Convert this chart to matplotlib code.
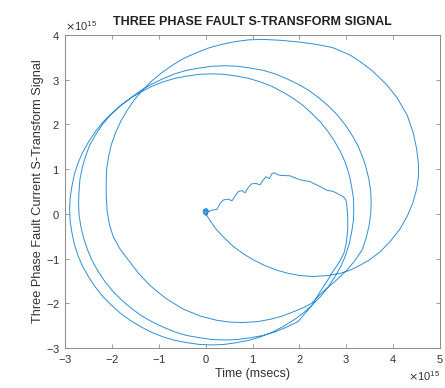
import numpy as np
import matplotlib.pyplot as plt
from matplotlib.ticker import ScalarFormatter

plt.rcParams['font.family'] = ['Liberation Sans', 'DejaVu Sans']
plt.rcParams['axes.unicode_minus'] = False

SCALE = 1e15

# small start-up loop at the origin
blob_x = [0.0, 0.04, 0.05, 0.02, -0.03, -0.05, -0.03, 0.01, 0.04, 0.03, -0.01, -0.03, 0.0]
blob_y = [0.0, 0.03, 0.08, 0.11, 0.10, 0.05, 0.0, -0.03, 0.0, 0.06, 0.07, 0.03, 0.0]

# first (widest) turn, leaving the origin along the lower arc
turn1_x = [0.0, 0.12, 0.235, 0.4, 0.59, 0.8, 1.02, 1.27, 1.52, 1.76,
           2.01, 2.3, 2.6, 2.87, 3.05, 3.22, 3.48, 3.72, 3.95, 4.15,
           4.3, 4.42, 4.5, 4.54, 4.54, 4.5, 4.43, 4.3, 4.08, 3.85,
           3.55, 3.3, 3.08, 2.7, 2.35, 2.0, 1.6, 1.21, 0.92, 0.63,
           0.35, 0.07, -0.20, -0.46, -0.70, -0.93, -1.15, -1.34, -1.52, -1.67,
           -1.81, -1.92, -2.01, -2.07, -2.11, -2.12, -2.12, -2.1, -2.05, -1.97,
           -1.83, -1.65, -1.43, -1.19, -0.85, -0.48, -0.1, 0.24, 0.52, 0.8,
           1.1, 1.37, 1.62, 1.87, 2.08, 2.26]
turn1_y = [0.0, -0.19, -0.36, -0.54, -0.73, -0.89, -1.03, -1.16, -1.26, -1.33,
           -1.38, -1.40, -1.38, -1.33, -1.27, -1.19, -1.04, -0.85, -0.6, -0.33,
           -0.05, 0.25, 0.55, 0.85, 1.1, 1.45, 1.8, 2.2, 2.6, 2.9,
           3.2, 3.4, 3.55, 3.72, 3.79, 3.84, 3.88, 3.9, 3.89, 3.85,
           3.79, 3.71, 3.60, 3.48, 3.33, 3.16, 2.97, 2.77, 2.55, 2.32,
           2.07, 1.82, 1.55, 1.28, 1.01, 0.74, 0.4, 0.05, -0.25, -0.51,
           -0.78, -1.03, -1.33, -1.6, -1.89, -2.13, -2.29, -2.38, -2.42, -2.43,
           -2.41, -2.36, -2.29, -2.19, -2.1, -2.0]

# second turn
turn2_x = [2.5, 2.78, 3.03, 3.2, 3.34, 3.42, 3.48, 3.52, 3.53, 3.52,
           3.48, 3.42, 3.34, 3.24, 3.11, 2.97, 2.80, 2.62, 2.42, 2.20,
           1.97, 1.73, 1.48, 1.22, 0.95, 0.68, 0.41, 0.14, -0.13, -0.40,
           -0.66, -0.91, -1.15, -1.38, -1.60, -1.82, -2.02, -2.20, -2.34, -2.47,
           -2.56, -2.63, -2.68, -2.70, -2.71, -2.70, -2.66, -2.60, -2.52, -2.42,
           -2.29, -2.15, -1.98, -1.80, -1.60, -1.38, -1.15, -0.91, -0.66, -0.40,
           -0.13, 0.14, 0.41, 0.68, 0.95, 1.22, 1.48, 1.73, 1.97]
turn2_y = [-1.74, -1.49, -1.24, -1.02, -0.80, -0.55, -0.29, -0.02, 0.25, 0.51,
           0.78, 1.04, 1.29, 1.54, 1.78, 2.00, 2.22, 2.41, 2.59, 2.76,
           2.90, 3.02, 3.13, 3.21, 3.26, 3.30, 3.31, 3.30, 3.26, 3.21,
           3.13, 3.02, 2.90, 2.76, 2.59, 2.41, 2.22, 2.00, 1.78, 1.54,
           1.29, 1.04, 0.78, 0.51, 0.25, -0.02, -0.29, -0.55, -0.80, -1.05,
           -1.29, -1.51, -1.73, -1.92, -2.10, -2.27, -2.41, -2.53, -2.64, -2.72,
           -2.77, -2.81, -2.82, -2.81, -2.77, -2.72, -2.64, -2.53, -2.41]

# third turn
turn3_x = [2.27, 2.45, 2.61, 2.75, 2.88, 2.98, 3.06, 3.11, 3.15, 3.16,
           3.15, 3.11, 3.06, 2.98, 2.88, 2.75, 2.61, 2.45, 2.27, 2.08,
           1.87, 1.65, 1.41, 1.17, 0.91, 0.66, 0.39, 0.13, -0.13, -0.40,
           -0.65, -0.91, -1.15, -1.39, -1.61, -1.82, -2.01, -2.19, -2.35, -2.49,
           -2.62, -2.72, -2.80, -2.85, -2.89, -2.90, -2.89, -2.85, -2.80, -2.72,
           -2.62, -2.49, -2.35, -2.19, -2.01, -1.82, -1.61, -1.39, -1.15, -0.91,
           -0.65, -0.40, -0.13, 0.13, 0.39, 0.66, 0.91, 1.17, 1.41, 1.65,
           1.87, 2.08]
turn3_y = [-2.04, -1.85, -1.64, -1.42, -1.18, -0.94, -0.68, -0.43, -0.16, 0.10,
           0.36, 0.63, 0.88, 1.14, 1.38, 1.62, 1.84, 2.05, 2.24, 2.42,
           2.58, 2.72, 2.85, 2.95, 3.03, 3.08, 3.12, 3.13, 3.12, 3.08,
           3.03, 2.95, 2.85, 2.72, 2.58, 2.42, 2.24, 2.05, 1.84, 1.62,
           1.38, 1.14, 0.88, 0.63, 0.36, 0.10, -0.16, -0.43, -0.68, -0.94,
           -1.18, -1.42, -1.64, -1.85, -2.04, -2.22, -2.38, -2.52, -2.65, -2.75,
           -2.83, -2.88, -2.92, -2.93, -2.92, -2.88, -2.83, -2.75, -2.65, -2.52,
           -2.38, -2.22]

# last rise on the right and the rippled return to the origin
tail_x = [2.27, 2.43, 2.58, 2.72, 2.85, 2.95, 3.0, 3.03, 3.03, 3.01, 2.99, 2.94, 2.87, 2.8,
          2.72, 2.58, 2.44, 2.3, 2.23, 2.12, 2.01, 1.94, 1.8, 1.59, 1.53, 1.46, 1.41, 1.36,
          1.29, 1.23, 1.16, 1.07, 0.98, 0.91, 0.84, 0.77, 0.7, 0.63, 0.56, 0.48, 0.38, 0.31,
          0.24, 0.12, 0.04, 0.0]
tail_y = [-2.04, -1.76, -1.52, -1.28, -1.08, -0.88, -0.65, -0.36, -0.06, 0.2, 0.31, 0.38, 0.42,
          0.46, 0.5, 0.53, 0.61, 0.68, 0.72, 0.74, 0.76, 0.79, 0.85, 0.86, 0.88, 0.92, 0.89,
          0.79, 0.83, 0.76, 0.65, 0.68, 0.67, 0.59, 0.47, 0.52, 0.5, 0.4, 0.29, 0.33, 0.31,
          0.24, 0.1, 0.08, 0.03, 0.0]

x = np.concatenate([blob_x, turn1_x, turn2_x, turn3_x, tail_x, blob_x]) * SCALE
y = np.concatenate([blob_y, turn1_y, turn2_y, turn3_y, tail_y, blob_y]) * SCALE

fig = plt.figure(figsize=(4.45, 3.88), dpi=100)
ax = fig.add_axes([0.146, 0.103, 0.843, 0.807])
ax.plot(x, y, color='#2e8fd6', linewidth=0.7)

ax.set_xlim(-3e15, 5e15)
ax.set_ylim(-3e15, 4e15)
ax.set_xticks(np.arange(-3, 6) * SCALE)
ax.set_yticks(np.arange(-3, 5) * SCALE)

for axis in (ax.xaxis, ax.yaxis):
    fmt = ScalarFormatter(useMathText=True)
    fmt.set_powerlimits((0, 0))
    axis.set_major_formatter(fmt)
for off in (ax.xaxis.get_offset_text(), ax.yaxis.get_offset_text()):
    off.set_fontsize(8)
    off.set_color('#666666')

ax.tick_params(direction='in', length=3, width=0.6, colors='#8a8a8a',
               labelcolor='#333333', labelsize=8, top=True, right=True)
for sp in ax.spines.values():
    sp.set_color('#8a8a8a')
    sp.set_linewidth(0.7)

ax.set_title('THREE PHASE FAULT S-TRANSFORM SIGNAL', fontsize=9, fontweight='bold',
             color='#222222', pad=7)
ax.set_xlabel('Time (msecs)', fontsize=9, color='#333333', labelpad=2)
ax.set_ylabel('Three Phase Fault Current S-Transform Signal', fontsize=9.2,
              color='#333333', labelpad=1)

fig.savefig('out.png', dpi=100)
